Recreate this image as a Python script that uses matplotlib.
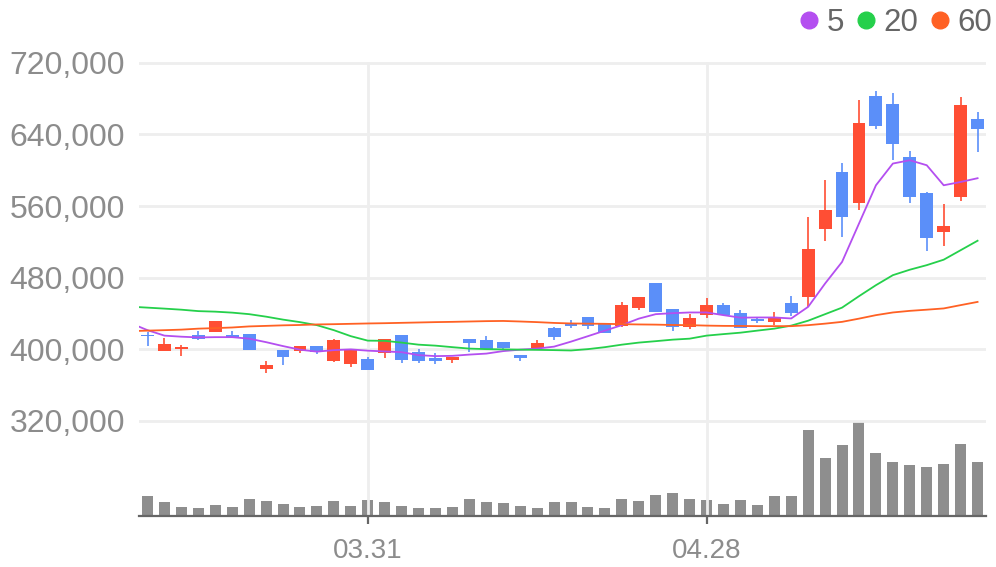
import matplotlib.pyplot as plt
import numpy as np
from matplotlib.lines import Line2D

plt.rcParams["font.family"] = ["Liberation Sans", "DejaVu Sans"]

# daily candles (price in KRW)
opens = [416200, 398100, 399600, 415600, 419300, 415600, 416800, 377700, 398500, 398100,
         403400, 386900, 382900, 388800, 395900, 415600, 396300, 390300, 388000, 411200,
         410100, 407800, 393300, 401500, 423500, 429000, 435800, 428300, 426000, 446100,
         473700, 444700, 424600, 438000, 449200, 440200, 433900, 429800, 451100, 457800,
         534100, 597800, 563100, 682700, 673700, 614500, 574300, 530700, 569800, 657000]
closes = [414500, 405600, 402200, 410800, 431300, 412000, 399200, 382100, 391400, 403400,
          396600, 410100, 400000, 376500, 411200, 387700, 386600, 386900, 391400, 406400,
          399700, 401500, 390300, 406700, 413700, 426000, 426000, 418200, 449200, 458100,
          441700, 424200, 434600, 449200, 438000, 423800, 430900, 435400, 440600, 511700,
          555300, 547500, 652500, 649200, 629000, 569800, 524000, 537400, 672600, 645800]
highs = [419300, 412300, 404500, 420100, 431500, 420100, 416800, 386600, 398500, 403400,
         403400, 411200, 400000, 391100, 411200, 415600, 400000, 395500, 391400, 411200,
         414500, 407800, 393300, 410100, 424600, 432400, 435800, 428300, 452500, 458100,
         473700, 444700, 439100, 457000, 451400, 443600, 435400, 441300, 459200, 547500,
         588800, 607800, 678200, 688300, 686000, 621200, 575400, 562000, 681600, 664800]
lows = [403700, 398000, 392500, 410600, 419000, 412000, 399200, 372900, 382100, 395900,
        394100, 385800, 380200, 376500, 390300, 384700, 384700, 383600, 384700, 397000,
        399700, 398900, 386900, 401500, 410400, 423800, 422700, 418200, 424900, 443900,
        441700, 419800, 422700, 435000, 438000, 423800, 428700, 426800, 437200, 447300,
        521000, 525100, 555300, 645800, 611200, 563100, 509500, 515100, 565400, 620100]
volumes = [20, 14, 9, 8, 11, 9, 17, 15, 12, 9,
           10, 15, 10, 16, 14, 10, 8, 8, 9, 17,
           14, 13, 10, 8, 14, 14, 9, 8, 17, 15,
           21, 23, 17, 16, 12, 16, 11, 20, 20, 86,
           58, 71, 95, 63, 54, 51, 49, 52, 72, 54]  # thousand shares

# moving averages, first value belongs to the day before the window
ma5 = [429000, 421200, 415100, 413900, 413100, 413400, 413400, 411700, 407800, 403400, 399400,
       397200, 398900, 399700, 398300, 397400, 396600, 393300, 392200, 392500, 393900,
       395000, 397800, 399400, 400600, 402800, 408400, 414500, 420700, 426800, 434100,
       439100, 440200, 441000, 441000, 438000, 435200, 435400, 435400, 434300, 447300,
       473400, 497500, 540400, 583200, 607500, 611200, 605600, 583200, 586900, 591100]
ma20 = [447500, 446400, 445300, 444100, 442500, 441900, 440800, 439100, 436300, 433000, 430200,
        426800, 421200, 414500, 409500, 409300, 407300, 405000, 403900, 402200, 400600,
        400000, 399700, 399400, 399200, 398900, 398500, 400000, 402200, 405000, 407300,
        408900, 410600, 411700, 415100, 416800, 418400, 420700, 422900, 426300, 431800,
        439100, 446400, 459200, 471500, 482700, 488800, 493900, 500000, 510600, 521200]
ma60 = [420100, 420700, 421200, 421800, 422900, 423500, 424200, 425400, 426000, 426600, 427000,
        427600, 427900, 428300, 428700, 429000, 429400, 429800, 430200, 430500, 430900,
        431300, 431500, 430900, 430200, 429300, 428700, 428500, 428300, 427900, 427600,
        427400, 427000, 426800, 426300, 426000, 425900, 425700, 425700, 425700, 426800,
        428500, 430500, 434100, 438000, 441000, 442800, 444100, 445500, 449200, 452800]

tick_idx = [13, 33]
tick_labels = ["03.31", "04.28"]
price_ticks = [320000, 400000, 480000, 560000, 640000, 720000]

UP, DOWN = "#ff4e34", "#5b8ff9"
MA_COLORS = {"5": "#b44ff0", "20": "#25d04b", "60": "#ff6124"}

opens = np.array(opens)
closes = np.array(closes)
x = np.arange(len(opens))
colors = np.where(closes > opens, UP, DOWN)

fig = plt.figure(figsize=(9.96, 5.67), dpi=100)
ax = fig.add_axes([0.1396, 0.0899, 0.8504, 0.8007])

# volume on its own scale underneath the candles
vax = ax.twinx()
vax.bar(x, volumes, width=0.65, color="#8e8e8e", zorder=2)
vax.set_ylim(0, 454)
vax.set_yticks([])
for s in vax.spines.values():
    s.set_visible(False)

ax.vlines(x, lows, highs, color=colors, lw=1.2, zorder=3)
bottoms = np.minimum(opens, closes)
heights = np.maximum(np.abs(closes - opens), 1800)
ax.bar(x, heights, bottom=bottoms, width=0.76, color=colors, zorder=4)

ma_x = np.arange(-1, len(opens))
for label, vals in (("5", ma5), ("20", ma20), ("60", ma60)):
    ax.plot(ma_x, vals, color=MA_COLORS[label], lw=1.3, zorder=5)

ax.set_xlim(-0.5, len(opens) - 0.5)
ax.set_ylim(213400, 721000)
ax.set_yticks(price_ticks)
ax.set_yticklabels([f"{p:,}" for p in price_ticks])
ax.set_xticks(tick_idx)
ax.set_xticklabels(tick_labels)
ax.grid(True, color="#eeeeee", lw=2)
ax.set_axisbelow(True)
ax.tick_params(axis="y", length=0, pad=10, labelsize=23, labelcolor="#8c8c8c")
ax.tick_params(axis="x", length=6, width=1.6, color="#666666", pad=10,
               labelsize=20, labelcolor="#8c8c8c")
for side in ("left", "right", "top"):
    ax.spines[side].set_visible(False)
ax.spines["bottom"].set_color("#666666")
ax.spines["bottom"].set_linewidth(1.6)
ax.set_zorder(vax.get_zorder() + 1)
ax.patch.set_visible(False)

handles = [Line2D([], [], ls="", marker="o", ms=12, color=c) for c in MA_COLORS.values()]
fig.legend(handles, list(MA_COLORS.keys()), loc="upper right", bbox_to_anchor=(1.024, 1.035),
           ncol=3, frameon=False, handlelength=0.7, handletextpad=0.2, columnspacing=0.35,
           fontsize=22.5, labelcolor="#666666")

fig.savefig("out.png", dpi=100)
